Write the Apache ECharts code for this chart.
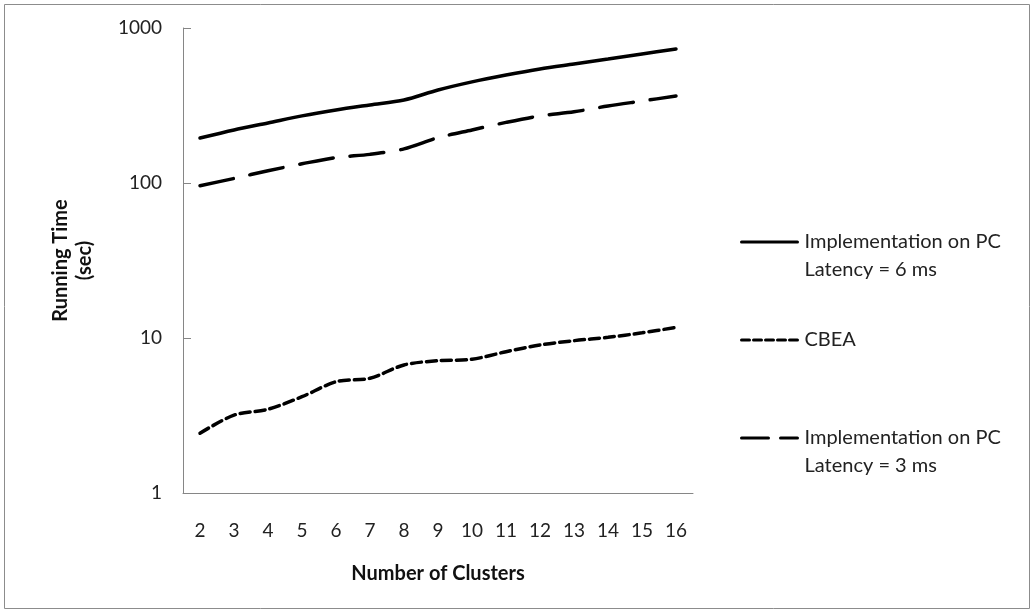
<!DOCTYPE html>
<html>
<head>
<meta charset="utf-8">
<script src="https://cdn.jsdelivr.net/npm/echarts@6/dist/echarts.min.js"></script>
<style>
html,body{margin:0;padding:0;background:#fff;}
#chart{width:1034px;height:613px;}
</style>
</head>
<body>
<div id="chart"></div>
<script>
const categories = ['2','3','4','5','6','7','8','9','10','11','12','13','14','15','16'];
const pc6ms = [195, 220, 244, 271, 296, 319, 343, 398, 449, 497, 544, 586, 631, 680, 732];
const cbea = [2.43, 3.18, 3.47, 4.18, 5.22, 5.50, 6.70, 7.14, 7.29, 8.16, 9.01, 9.61, 10.1, 10.8, 11.7];
const pc3ms = [96, 107, 120, 133, 146, 153, 166, 196, 220, 246, 271, 288, 314, 338, 364];
const yTicks = [1, 10, 100, 1000];

const names = {
  pc6: 'Implementation on PC\nLatency = 6 ms',
  cbea: 'CBEA',
  pc3: 'Implementation on PC\nLatency = 3 ms'
};

const font = 'Lato, "Open Sans", sans-serif';
const chart = echarts.init(document.getElementById('chart'), null, {renderer: 'canvas'});
chart.setOption({
  backgroundColor: '#fff',
  animation: false,
  graphic: [{
    type: 'rect', silent: true,
    shape: {x: 4.5, y: 4.5, width: 1025, height: 604},
    style: {fill: 'none', stroke: '#8c8c8c', lineWidth: 1}
  }],
  grid: {left: 183, right: 341, top: 28, bottom: 120, containLabel: false},
  legend: {
    orient: 'vertical',
    left: 740, top: 200,
    padding: 0,
    itemWidth: 56, itemHeight: 14,
    itemGap: 14,
    itemStyle: {opacity: 0},
    data: [
      {name: names.pc6, lineStyle: {type: 'solid', width: 3}},
      {name: names.cbea, lineStyle: {type: [8, 4], width: 3}},
      {name: names.pc3, lineStyle: {type: [27, 12], width: 3}}
    ],
    formatter: function (n) {
      if (n === names.cbea) return ' \n' + n + '\n ';
      return ' \n' + n;
    },
    textStyle: {fontFamily: font, fontSize: 20, color: '#222', lineHeight: 28, padding: [0,0,0,2]}
  },
  xAxis: {
    type: 'category',
    data: categories,
    boundaryGap: true,
    name: 'Number of Clusters',
    nameLocation: 'middle',
    nameGap: 71,
    nameTextStyle: {fontFamily: font, fontSize: 20, fontWeight: 'bold', color: '#111'},
    axisLine: {lineStyle: {color: '#868686', width: 1}},
    axisTick: {inside: true, length: 6, alignWithLabel: false, lineStyle: {color: '#868686'}},
    axisLabel: {fontFamily: font, fontSize: 19, color: '#222', margin: 28},
    splitLine: {show: false}
  },
  yAxis: {
    type: 'log',
    logBase: 10,
    min: 1, max: 1000,
    name: 'Running Time\n(sec)',
    nameLocation: 'middle',
    nameRotate: 90,
    nameGap: 86,
    nameTextStyle: {fontFamily: font, fontSize: 20, fontWeight: 'bold', color: '#111', lineHeight: 24, align: 'center'},
    axisLine: {show: true, lineStyle: {color: '#868686', width: 1}},
    axisTick: {show: true, inside: true, length: 8, lineStyle: {color: '#868686', width: 1}},
    axisLabel: {fontFamily: font, fontSize: 19, color: '#222', margin: 21, formatter: function (v) { return String(v); }},
    splitLine: {show: false}
  },
  series: [
    {
      name: names.pc6, type: 'line', data: pc6ms, symbol: 'none', smooth: 0.3,
      lineStyle: {color: '#000', width: 3.5, type: 'solid', cap: 'round'},
      itemStyle: {color: '#000'}
    },
    {
      name: names.cbea, type: 'line', data: cbea, symbol: 'none', smooth: 0.3,
      lineStyle: {color: '#000', width: 3.5, type: [10, 5], cap: 'round'},
      itemStyle: {color: '#000'}
    },
    {
      name: names.pc3, type: 'line', data: pc3ms, symbol: 'none', smooth: 0.3,
      lineStyle: {color: '#000', width: 3.5, type: [34, 17], cap: 'round'},
      itemStyle: {color: '#000'}
    }
  ]
});
</script>
</body>
</html>
